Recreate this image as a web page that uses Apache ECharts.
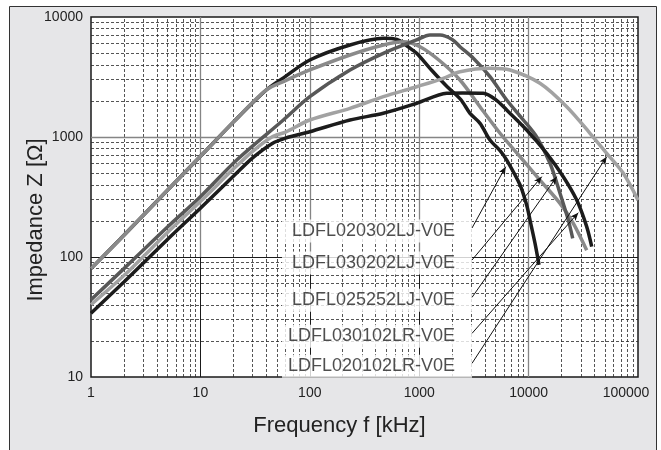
<!DOCTYPE html>
<html lang="en">
<head>
  <meta charset="UTF-8">
  <title>Impedance vs frequency</title>
  <script src="https://cdn.jsdelivr.net/npm/echarts@6/dist/echarts.min.js"></script>
  <style>
    body { margin: 0; background: #fff; }
    #chart { width: 661px; height: 450px; }
  </style>
</head>
<body>
  <div id="chart"></div>
  <script>
    // series names (top to bottom in the label stack)
    const names = ['LDFL020302LJ-V0E', 'LDFL030202LJ-V0E', 'LDFL025252LJ-V0E', 'LDFL030102LR-V0E', 'LDFL020102LR-V0E'];

    // [frequency kHz, impedance ohm]
    const ldfl020302LJ = [[1,80],[2,152],[5,360],[10,690],[20,1330],[40,2465],[60,3200],[100,4385],[233,5845],[470,6640],[580,6600],[668,6345],[800,5600],[948,4985],[1300,3600],[1784,2650],[2400,2050],[2912,1576],[3600,1300],[4435,944],[5480,770],[6310,643],[8340,400],[9610,270],[10300,203],[11450,130],[12450,86]];
    const ldfl030202LJ = [[1,80],[2,152],[5,360],[10,690],[20,1330],[40,2465],[60,2950],[100,3617],[233,4823],[470,5845],[716,6223],[1017,5655],[1550,4300],[2360,2985],[3595,1788],[5480,1074],[8340,686],[12700,438],[19360,280],[25630,191],[33960,114]];
    const ldfl025252LJ = [[1,44],[2,80],[5,178],[10,318],[21.5,643],[57.3,1386],[100,2168],[233,3617],[470,4985],[948,6435],[1255,7080],[1550,7080],[2000,6500],[2360,5655],[3125,4530],[4435,3180],[6310,2033],[8950,1386],[11860,1000],[15700,604],[19360,340],[23070,203],[25300,143]];
    const ldfl030102LR = [[1,34],[2,62],[5,140],[10,255],[20,470],[30,670],[45,880],[60,980],[100,1107],[233,1386],[470,1576],[948,1910],[1784,2312],[2500,2330],[3855,2312],[5000,2050],[6310,1679],[9610,1144],[14630,731],[20750,467],[27540,298],[33960,179],[37740,122]];
    const ldfl020102LR = [[1,40],[2,70],[5,160],[10,290],[20,540],[30,760],[45,1000],[60,1100],[100,1386],[233,1734],[470,2168],[948,2625],[1660,3083],[2360,3500],[4435,3737],[6760,3617],[12700,2802],[22300,1788],[36400,1074],[51760,731],[73400,498],[100000,298]];
    const curves = [ldfl020302LJ, ldfl030202LJ, ldfl025252LJ, ldfl030102LR, ldfl020102LR];
    const colors = ['#1c1c1c', '#8a8a8a', '#585858', '#1c1c1c', '#a2a2a2'];

    // label anchors (arrow tails) and arrow heads, in data units
    const labelAnchors = [[3040,174.5],[3040,94.4],[3040,46.1],[3040,23.1],[3040,13.0]];
    const arrowTips = [[6180,566],[13180,467],[18070,467],[28460,234],[51760,686]];

    // grid lines
    const xMinor = [];
    for (let d = 1; d <= 10000; d *= 10) for (let k = 2; k <= 9; k++) xMinor.push(k * d);
    const yMinor = [];
    for (let d = 10; d <= 1000; d *= 10) for (let k = 2; k <= 9; k++) yMinor.push(k * d);
    const xMajor = [10, 100, 1000, 10000];

    const font = 'Liberation Sans, Arial, sans-serif';
    const dash = { type: [3, 2], color: '#2a2a2a', width: 0.8 };
    const gray = { type: 'solid', color: '#858585', width: 1.3 };
    const black = { type: 'solid', color: '#1a1a1a', width: 1 };

    const gridLines = [];
    xMinor.forEach(v => gridLines.push({ xAxis: v, lineStyle: dash }));
    yMinor.forEach(v => gridLines.push({ yAxis: v, lineStyle: dash }));
    gridLines.push({ yAxis: 1000, lineStyle: gray });
    gridLines.push({ yAxis: 100, lineStyle: black });
    xMajor.forEach(v => {
      if (v === 10000) {
        gridLines.push({ xAxis: v, lineStyle: gray });
      } else {
        gridLines.push([{ coord: [v, 100], lineStyle: gray }, { coord: [v, 10000] }]);
        gridLines.push([{ coord: [v, 10], lineStyle: black }, { coord: [v, 100] }]);
      }
    });

    const chart = echarts.init(document.getElementById('chart'));

    const series = [{
      type: 'line',
      data: [[1, 10]],
      symbol: 'none',
      lineStyle: { opacity: 0 },
      silent: true,
      z: 1,
      markLine: {
        z: 1,
        silent: true,
        symbol: ['none', 'none'],
        label: { show: false },
        data: gridLines
      }
    }];

    curves.forEach((c, i) => {
      series.push({
        name: names[i],
        type: 'line',
        data: c,
        symbol: 'none',
        smooth: 0.3,
        z: 3,
        lineStyle: { color: colors[i], width: 3.5 }
      });
    });

    // white label boxes with the part numbers, plus the arrows
    series.push({
      type: 'scatter',
      symbol: 'rect',
      symbolSize: [190, 23],
      symbolOffset: [-95, 3],
      itemStyle: { color: '#fff' },
      silent: true,
      z: 6,
      data: labelAnchors.map((p, i) => ({ value: p, name: names[i] })),
      label: {
        show: true,
        position: 'insideRight',
        distance: 17,
        formatter: p => p.name,
        fontFamily: font,
        fontSize: 18,
        color: '#222'
      },
      markLine: {
        z: 7,
        silent: true,
        symbol: ['none', 'arrow'],
        symbolSize: [5, 8],
        label: { show: false },
        lineStyle: { type: 'solid', color: '#111', width: 1 },
        data: labelAnchors.map((p, i) => [{ coord: p }, { coord: arrowTips[i] }])
      }
    });

    chart.setOption({
      animation: false,
      backgroundColor: '#fff',
      graphic: [{
        type: 'rect',
        z: -10,
        shape: { x: 9.5, y: 6.5, width: 647, height: 470 },
        style: { fill: '#e6e6e8', stroke: '#333', lineWidth: 1 }
      }],
      grid: {
        left: 91, right: 23, top: 17, bottom: 73,
        show: true, backgroundColor: '#fff', borderColor: '#1a1a1a', borderWidth: 1.5
      },
      xAxis: {
        type: 'log', logBase: 10, min: 1, max: 100000,
        name: 'Frequency f [kHz]', nameLocation: 'middle', nameGap: 38, nameMoveOverlap: false,
        nameTextStyle: { fontFamily: font, fontSize: 22, color: '#222', padding: [0, 50, 0, 0] },
        axisLine: { show: false }, axisTick: { show: false }, splitLine: { show: false },
        axisLabel: {
          fontFamily: font, fontSize: 14, color: '#222', margin: 9,
          formatter: v => Math.round(v) === 100000 ? '{last|100000}' : String(Math.round(v)),
          rich: { last: { fontFamily: font, fontSize: 14, color: '#222', padding: [0, 24, 0, 0] } }
        }
      },
      yAxis: {
        type: 'log', logBase: 10, min: 10, max: 10000,
        name: 'Impedance Z [Ω]', nameLocation: 'middle', nameGap: 44, nameMoveOverlap: false,
        nameTextStyle: { fontFamily: font, fontSize: 22, color: '#222', padding: [0, 46, 0, 0] },
        axisLine: { show: false }, axisTick: { show: false }, splitLine: { show: false },
        axisLabel: { fontFamily: font, fontSize: 14, color: '#222', margin: 8, formatter: v => String(Math.round(v)) }
      },
      series: series
    });
  </script>
</body>
</html>
